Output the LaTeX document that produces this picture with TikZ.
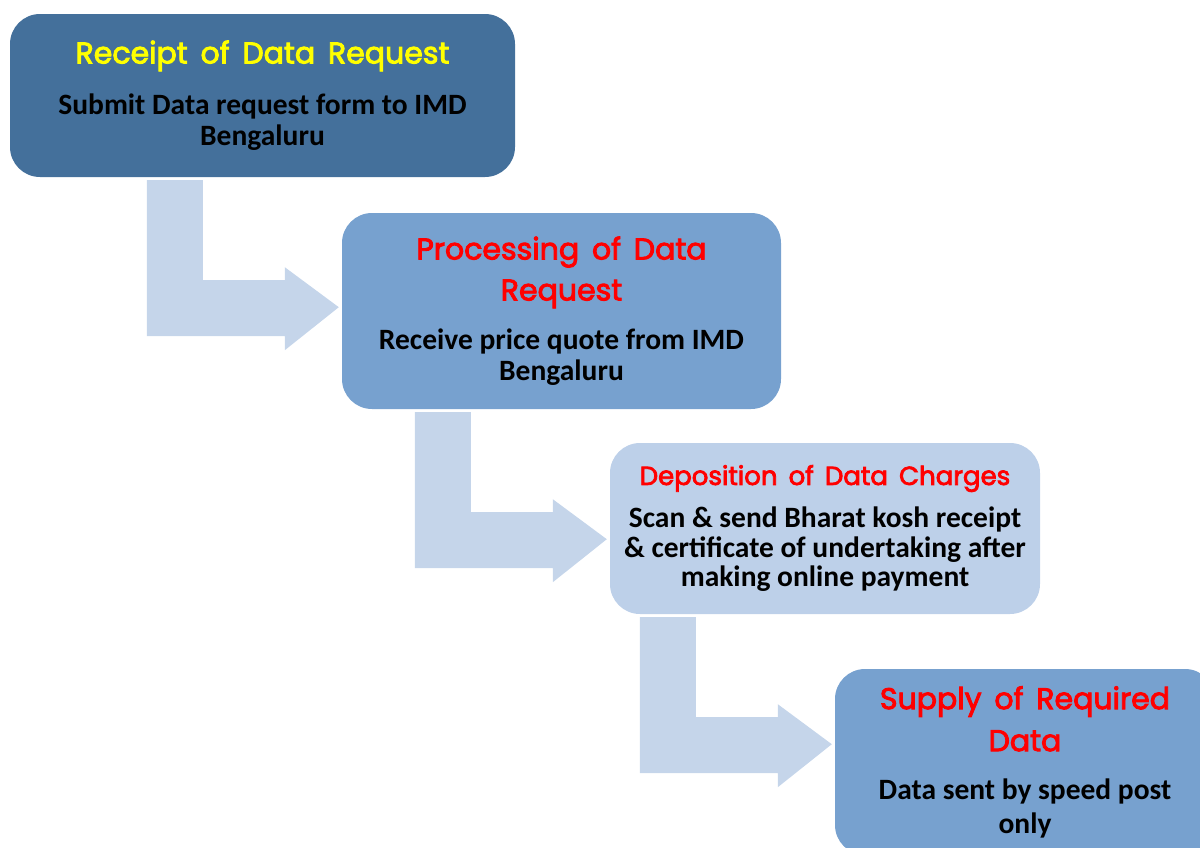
\documentclass[tikz,border=0pt]{standalone}
\usepackage{fontspec}
\setmainfont{Carlito}
\newfontfamily\titlefont{Poppins}[WordSpace=1.6,FakeBold=3]
\usetikzlibrary{positioning,calc}

\definecolor{darkbox}{HTML}{44709B}
\definecolor{midbox}{HTML}{77A1CF}
\definecolor{lightbox}{HTML}{BDD0E9}
\definecolor{flowcol}{HTML}{C5D5EA}
\definecolor{titleyellow}{HTML}{FFFF00}
\definecolor{titlered}{HTML}{FF0000}

\tikzset{
  stagebox/.style={rounded corners=30pt,align=center,inner sep=0pt,
    font=\bfseries\fontsize{29.5}{31}\selectfont},
  flow/.style={fill=flowcol}
}
% title line of a box
\newcommand{\stagetitle}[3][30]{{\titlefont\mdseries\fontsize{#1}{41}\selectfont\color{#2}#3}}
% bent arrow from under #1 to the left side of #2
\newcommand{\bendarrow}[2]{%
  \fill[flow] let \p1=(#1.south), \p2=(#2.west) in
    (\x2-195pt,\y1-3pt) -- (\x2-139pt,\y1-3pt) -- (\x2-139pt,\y1-103pt)
    -- (\x2-57pt,\y1-103pt) -- (\x2-57pt,\y1-90pt) -- (\x2-3pt,\y1-130pt)
    -- (\x2-57pt,\y1-173pt) -- (\x2-57pt,\y1-159pt) -- (\x2-195pt,\y1-159pt) -- cycle;}

\begin{document}
\begin{tikzpicture}[x=1pt,y=-1pt]
\useasboundingbox (0,0) rectangle (1200,847);
\clip (0,0) rectangle (1200,847);

\node (receipt) [stagebox,fill=darkbox,minimum width=505pt,minimum height=163pt] at (262.5,95.5)
  {\stagetitle{titleyellow}{Receipt of Data Request}\\[20pt]
   Submit Data request form to IMD\\Bengaluru};
\node (process) [stagebox,fill=midbox,minimum width=439pt,minimum height=196pt] at (561.5,311)
  {\stagetitle{titlered}{Processing of Data}\\[10pt]\stagetitle{titlered}{Request}\\[18pt]
   Receive price quote from IMD\\Bengaluru};
\node (deposit) [stagebox,fill=lightbox,minimum width=430pt,minimum height=171pt] at (825,528.5)
  {\stagetitle[26]{titlered}{Deposition of Data Charges}\\[12pt]
   Scan \& send Bharat kosh receipt\\[-1pt]\& certificate of undertaking after\\[-2pt]making online payment};
\node (supply) [stagebox,fill=midbox,minimum width=380pt,minimum height=186pt] at (1025,762)
  {\stagetitle{titlered}{Supply of Required}\\[11pt]\stagetitle{titlered}{Data}\\[17pt]
   Data sent by speed post\\[3pt]only};

\bendarrow{receipt}{process}
\bendarrow{process}{deposit}
\bendarrow{deposit}{supply}
\end{tikzpicture}
\end{document}
